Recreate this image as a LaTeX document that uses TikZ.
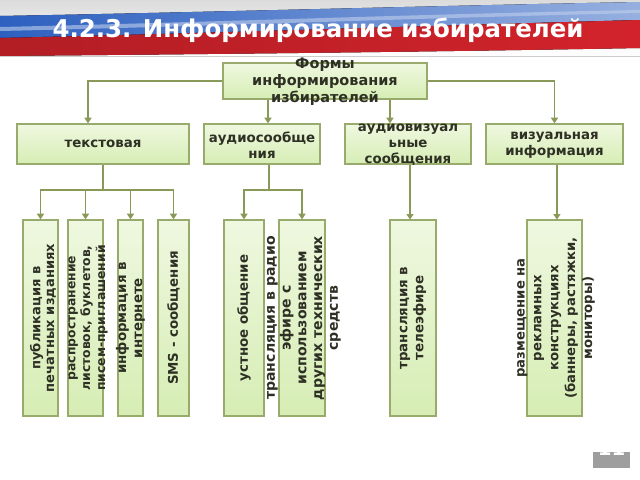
\documentclass[tikz,border=0pt]{standalone}
\usepackage{fontspec}
\setmainfont{DejaVu Sans}
\usetikzlibrary{arrows.meta,shadows}

\definecolor{boxTop}{HTML}{EFF8E0}
\definecolor{boxBot}{HTML}{D6EDB4}
\definecolor{boxRim}{HTML}{98AA6C}
\definecolor{linkCol}{HTML}{899A58}
\definecolor{txtCol}{HTML}{2E3024}
\definecolor{flagBlue}{HTML}{2D60C0}
\definecolor{flagRed}{HTML}{D2232B}

\tikzset{
  formbox/.style={draw=boxRim, line width=0.9pt, top color=boxTop, bottom color=boxBot,
    drop shadow={shadow xshift=0.7pt, shadow yshift=-0.9pt, opacity=0.25}, inner sep=0pt},
  formtext/.style={text=txtCol, font=\bfseries\fontsize{9.5}{11.3}\selectfont, align=center, inner sep=0pt},
  leaftext/.style={formtext, rotate=90},
  trunk/.style={draw=linkCol, line width=1.3pt},
  link/.style={trunk, -{Triangle[length=4pt,width=5pt]}},
}

\begin{document}
\begin{tikzpicture}[x=0.025cm,y=-0.025cm]

\useasboundingbox (0,0) rectangle (640,480);

% ---------------- banner ----------------
\fill[top color=black!14, bottom color=white] (0,0) rectangle (640,56);
\fill[left color=flagBlue, right color=flagBlue!50] (0,16) .. controls (220,12) and (420,6) .. (640,2)
  -- (640,20) .. controls (420,26) and (220,32) .. (0,40) -- cycle;
\fill[white!70!flagBlue, opacity=0.6] (0,27) .. controls (220,22) and (420,14) .. (640,10)
  -- (640,13) .. controls (420,18) and (220,26) .. (0,31) -- cycle;
\fill[left color=flagRed!85!black, right color=flagRed] (0,38) .. controls (220,33) and (420,26) .. (640,20)
  -- (640,48) .. controls (420,52) and (220,54) .. (0,56) -- cycle;
\fill[black!20] (0,56) rectangle (640,57);

\node[text=white, font=\bfseries\fontsize{17.4}{20}\selectfont] (title) at (318,30)
  {4.2.3. Информирование избирателей};

% ---------------- boxes ----------------
\node[formbox, minimum width=5.1cm, minimum height=0.9cm] (top) at (325,81) {};
\node[formtext, font=\bfseries\fontsize{10.3}{12}\selectfont] (topT) at (325,82)
  {Формы\\информирования\\избирателей};

\node[formbox, minimum width=4.3cm, minimum height=1cm] (txt) at (103,144) {};
\node[formbox, minimum width=2.9cm, minimum height=1cm] (aud) at (262,144) {};
\node[formbox, minimum width=3.15cm, minimum height=1cm] (av) at (408,144) {};
\node[formbox, minimum width=3.425cm, minimum height=1cm] (vis) at (554.5,144) {};

\node[formtext] (txtT) at (txt) {текстовая};
\node[formtext] (audT) at (262,145) {аудиосообще\\ния};
\node[formtext] (avT) at (408,145) {аудиовизуал\\ьные\\сообщения};
\node[formtext] (visT) at (554.5,145) {визуальная\\информация};

% leaves (height 196px)
\node[formbox, minimum width=0.875cm, minimum height=4.9cm] (l1) at (40.5,318) {};
\node[formbox, minimum width=0.875cm, minimum height=4.9cm] (l2) at (85.5,318) {};
\node[formbox, minimum width=0.625cm, minimum height=4.9cm] (l3) at (130.5,318) {};
\node[formbox, minimum width=0.775cm, minimum height=4.9cm] (l4) at (173.5,318) {};
\node[formbox, minimum width=1cm, minimum height=4.9cm] (l5) at (244,318) {};
\node[formbox, minimum width=1.15cm, minimum height=4.9cm] (l6) at (302,318) {};
\node[formbox, minimum width=1.15cm, minimum height=4.9cm] (l7) at (413,318) {};
\node[formbox, minimum width=1.375cm, minimum height=4.9cm] (l8) at (554.5,318) {};

\node[leaftext, font=\bfseries\fontsize{9.3}{9.7}\selectfont] (l1T) at (43,318)
  {публикация в\\печатных изданиях};
\node[leaftext, font=\bfseries\fontsize{8.8}{10.6}\selectfont] (l2T) at (88,318)
  {распространение\\листовок, буклетов,\\писем-приглашений};
\node[leaftext] (l3T) at (l3) {информация в\\интернете};
\node[leaftext] (l4T) at (l4) {SMS - сообщения};
\node[leaftext] (l5T) at (l5) {устное общение};
\node[leaftext, font=\bfseries\fontsize{10}{11.2}\selectfont] (l6T) at (304,318)
  {трансляция в радио\\эфире с\\использованием\\других технических\\средств};
\node[leaftext] (l7T) at (l7) {трансляция в\\телеэфире};
\node[leaftext, font=\bfseries\fontsize{9.4}{12}\selectfont] (l8T) at (556,318)
  {размещение на\\рекламных\\конструкциях\\(баннеры, растяжки,\\мониторы)};

% ---------------- connectors ----------------
\coordinate (txtIn) at ([xshift=-0.375cm]txt.north);
\coordinate (audIn) at ([xshift=0.15cm]aud.north);
\coordinate (avIn) at ([xshift=-0.45cm]av.north);

\draw[link] (top.west) -| (txtIn);
\draw[link] (top.east) -| (vis.north);
\draw[link] (top.south -| audIn) -- (audIn);
\draw[link] (top.south -| avIn) -- (avIn);

\draw[trunk] (txt.south) -- ++(0,25) coordinate (txtFork);
\foreach \leaf in {l1,l2,l3,l4}
  \draw[link] (txtFork) -| (\leaf.north);

\draw[trunk] ([xshift=0.175cm]aud.south) -- ++(0,25) coordinate (audFork);
\foreach \leaf in {l5,l6}
  \draw[link] (audFork) -| (\leaf.north);

\draw[link] ([xshift=0.05cm]av.south) -- ++(0,55);
\draw[link] ([xshift=0.06cm]vis.south) -- ++(0,55);

% ---------------- page badge ----------------
\node[fill=black!38, minimum width=0.925cm, minimum height=0.4cm, inner sep=0pt] (badge) at (611.5,460) {};
\node[anchor=base, text=white, font=\bfseries\fontsize{14}{14}\selectfont] (pageNo) at (611.5,455) {11};

\end{tikzpicture}
\end{document}
